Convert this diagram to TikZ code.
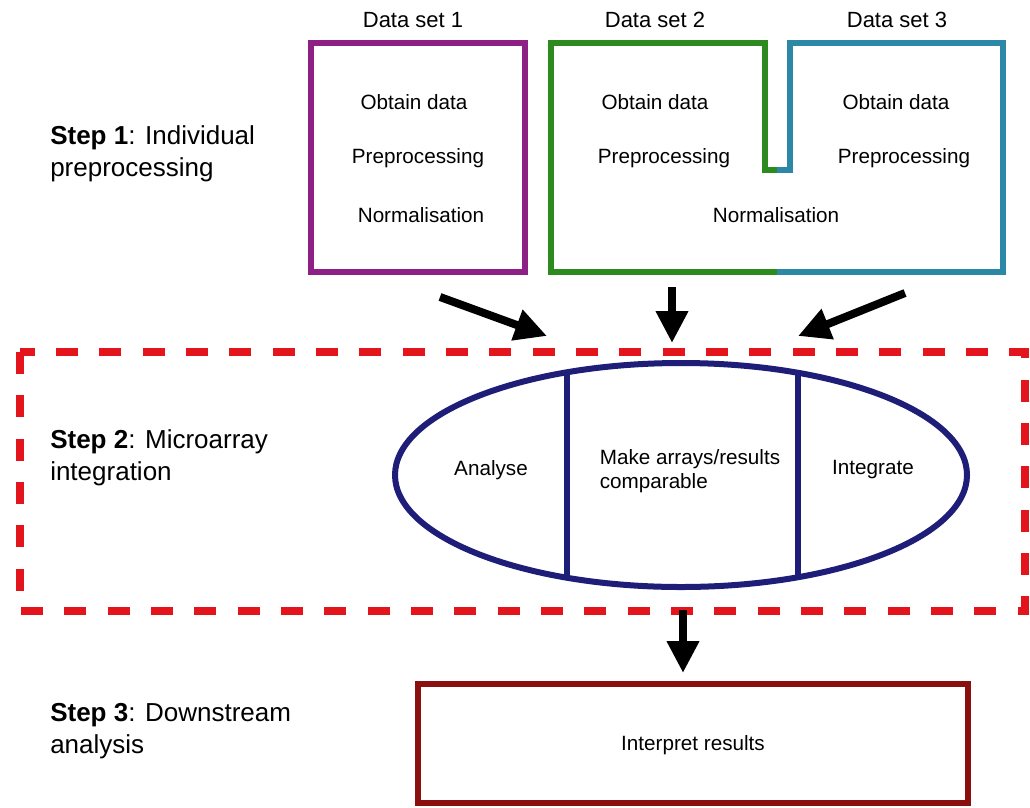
\documentclass[tikz,border=0pt]{standalone}
\usepackage{fontspec}
\setmainfont{Liberation Sans}
\usetikzlibrary{arrows.meta}
\definecolor{cpurple}{HTML}{8E1F84}
\definecolor{cgreen}{HTML}{2D8A1E}
\definecolor{cblue}{HTML}{2B88A6}
\definecolor{cnavy}{HTML}{1E1E78}
\definecolor{cred}{HTML}{E3141B}
\definecolor{cdred}{HTML}{8A0F0F}
\tikzset{
  boxline/.style={line width=5pt, line join=miter},
  txt/.style={font=\fontsize{15.5}{18}\selectfont, inner sep=0pt},
  title/.style={font=\fontsize{16.5}{20}\selectfont, inner sep=0pt},
  steptxt/.style={font=\fontsize{19.5}{24}\selectfont, inner sep=0pt, align=left, anchor=west},
  bigarrow/.style={line width=6pt, -{Triangle[length=24pt,width=23pt]}},
}
\begin{document}
\begin{tikzpicture}[x=0.75pt,y=-0.75pt]
\useasboundingbox (0,0) rectangle (1030,807);
% titles
\node[title] (t1) at (413,20) {Data set 1};
\node[title] (t2) at (655,20) {Data set 2};
\node[title] (t3) at (897,20) {Data set 3};
% step labels
\node[steptxt] (s1) at (50,154) {\textbf{Step 1}: Individual\\preprocessing};
\node[steptxt] (s2) at (50,458) {\textbf{Step 2}: Microarray\\integration};
\node[steptxt] (s3) at (50,731) {\textbf{Step 3}: Downstream\\analysis};
% box 1
\draw[boxline, cpurple] (311,43) rectangle (525,272);
\node[txt] (o1) at (414,102) {Obtain data};
\node[txt] (p1) at (418,158) {Preprocessing};
\node[txt] (n1) at (421,215) {Normalisation};
% box 2/3 combined
\draw[boxline, cgreen] (777,272) -- (551,272) -- (551,43) -- (765,43) -- (765,170) -- (777,170);
\draw[boxline, cblue] (777,170) -- (790,170) -- (790,43) -- (1003,43) -- (1003,272) -- (777,272);
\node[txt] (o2) at (655,102) {Obtain data};
\node[txt] (p2) at (664,158) {Preprocessing};
\node[txt] (o3) at (896,102) {Obtain data};
\node[txt] (p3) at (904,158) {Preprocessing};
\node[txt] (n23) at (776,215) {Normalisation};
% dashed frame
\draw[cred, line width=6pt, dash pattern=on 16.5pt off 16pt] (20,352) rectangle (1025,611);
% ellipse
\draw[cnavy, line width=4.5pt] (681,475) ellipse [x radius=286, y radius=112];
\coordinate (l1) at (567,{475-112*sqrt(1-(114/286)^2)});
\coordinate (l2) at (567,{475+112*sqrt(1-(114/286)^2)});
\coordinate (r1) at (798,{475-112*sqrt(1-(117/286)^2)});
\coordinate (r2) at (798,{475+112*sqrt(1-(117/286)^2)});
\draw[cnavy, line width=4.5pt] (l1) -- (l2);
\draw[cnavy, line width=4.5pt] (r1) -- (r2);
\node[txt] (an) at (491,470) {Analyse};
\node[txt, align=left] (mk) at (690,471) {Make arrays/results\\comparable};
\node[txt] (ig) at (873,470) {Integrate};
% arrows
\coordinate (a1s) at (440,297); \coordinate (a1e) at (547,336);
\coordinate (a2s) at (672,287); \coordinate (a2e) at (672,343);
\coordinate (a3s) at (905,293); \coordinate (a3e) at (798,336);
\coordinate (a4s) at (683,610); \coordinate (a4e) at (683,673);
\draw[bigarrow] (a1s) -- (a1e);
\draw[bigarrow] (a2s) -- (a2e);
\draw[bigarrow] (a3s) -- (a3e);
\draw[bigarrow] (a4s) -- (a4e);
% bottom box
\draw[boxline, cdred] (418,684) rectangle (968,803);
\node[txt] (ir) at (693,745) {Interpret results};
\end{tikzpicture}
\end{document}
